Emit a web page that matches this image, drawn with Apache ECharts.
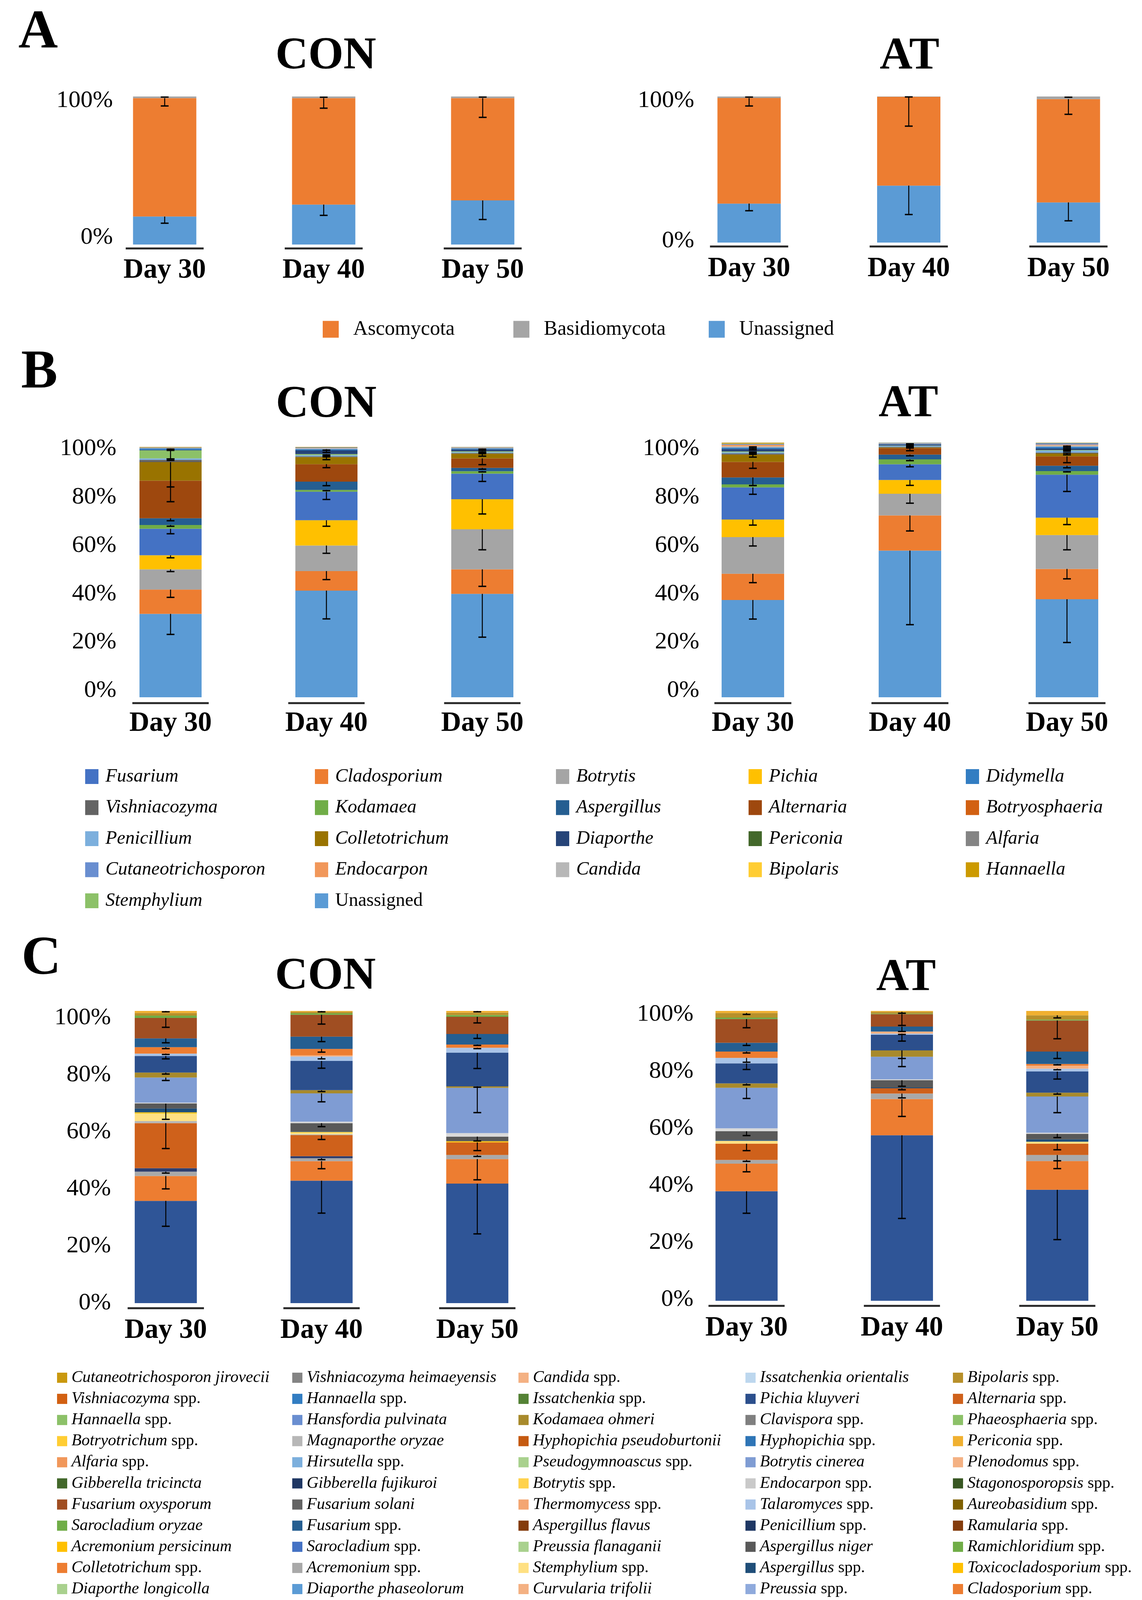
<!DOCTYPE html>
<html><head><meta charset="utf-8">
<script src="https://cdn.jsdelivr.net/npm/echarts@6/dist/echarts.min.js"></script>
<style>html,body{margin:0;padding:0;background:#fff}#c{width:2923px;height:4336px}</style>
</head><body><div id="c"></div>
<script>
// ---------------- DATA ----------------
const days = ['Day 30', 'Day 40', 'Day 50'];
const pctTicks = ['0%', '20%', '40%', '60%', '80%', '100%'];

// Panel A (phylum), stack order bottom-up; each row = [Day30, Day40, Day50]
const aTaxa = ['Unassigned', 'Ascomycota', 'Basidiomycota'];
const aColors = ['#5B9BD5', '#ED7D31', '#A5A5A5'];
const aConValues = [[18.9, 27.0, 29.8], [80.0, 71.9, 69.1], [1.1, 1.1, 1.1]];
const aConErrors = [[4.5, 7.3, 12.9], [5.3, 6.8, 13.0], [0.4, 0.5, 0.4]];
const aAtValues = [[26.7, 39.0, 27.5], [72.2, 60.7, 70.7], [1.1, 0.3, 1.8]];
const aAtErrors = [[4.9, 19.8, 12.6], [5.4, 20.0, 10.4], [0.4, 0.3, 0.5]];
const aLegend = ['Ascomycota', 'Basidiomycota', 'Unassigned'];

// Panel B (genus), stack order bottom-up
const bTaxa = ['Unassigned', 'Cladosporium', 'Botrytis', 'Pichia', 'Fusarium', 'Kodamaea', 'Aspergillus', 'Alternaria', 'Colletotrichum', 'Vishniacozyma', 'Penicillium', 'Stemphylium', 'Diaporthe', 'Didymella', 'Candida', 'Endocarpon', 'Cutaneotrichosporon', 'Periconia', 'Bipolaris', 'Alfaria', 'Hannaella', 'Botryosphaeria'];
const bColors = ['#5B9BD5', '#ED7D31', '#A5A5A5', '#FFC000', '#4472C4', '#70AD47', '#255E91', '#9E480E', '#997300', '#636363', '#7CAFDD', '#8CC168', '#264478', '#327DC2', '#B7B7B7', '#F1975A', '#698ED0', '#43682B', '#FFCD33', '#848484', '#CC9A00', '#D26012'];
const bConValues = [[33.3, 42.6, 41.3], [9.7, 7.8, 9.8], [8.1, 10.2, 16.0], [5.6, 10.1, 12.0], [10.6, 11.4, 10.2], [1.5, 0.7, 1.0], [2.7, 3.3, 1.3], [15.0, 7.0, 3.8], [7.4, 2.8, 1.9], [0.9, 0.3, 0.2], [0.6, 0.5, 0.4], [3.2, 0.4, 0.3], [0.2, 1.5, 0.8], [0.6, 0.5, 0.4], [0.1, 0.3, 0.2], [0.1, 0.1, 0.1], [0.1, 0.2, 0.1], [0.1, 0.1, 0.05], [0.05, 0.05, 0.05], [0.05, 0.05, 0.05], [0.05, 0.05, 0.05], [0.05, 0.05, 0]];
const bConErrors = [[8.2, 11.3, 17.3], [3.1, 3.4, 6.8], [0.9, 3.1, 8.2], [1.0, 2.4, 5.9], [2.0, 3.1, 3.1], [0.5, 0.3, 0.3], [1.0, 1.6, 0.5], [8.4, 1.4, 2.5], [9.9, 1.0, 1.0], [0.2, 0.2, 0.2], [0.2, 0.3, 0.2], [3.4, 0.3, 0.3], [0.2, 0.8, 0.5], [0.3, 0.4, 0.3]];
const bAtValues = [[38.2, 57.6, 38.5], [10.3, 13.8, 11.9], [14.4, 8.5, 13.3], [6.9, 5.4, 6.8], [12.6, 6.2, 16.9], [1.2, 1.9, 1.4], [2.7, 1.9, 2.1], [6.1, 2.5, 3.7], [2.9, 0.3, 1.1], [0.4, 0.2, 0.4], [0.5, 0.4, 0.8], [0.3, 0.1, 0.2], [1.0, 0.5, 0.6], [0.5, 0.2, 0.6], [0.5, 0.1, 0.6], [0.6, 0.1, 0.3], [0.3, 0.2, 0.5], [0.1, 0.05, 0.1], [0.2, 0.05, 0.1], [0.1, 0, 0.05], [0.2, 0, 0.05], [0, 0, 0]];
const bAtErrors = [[7.5, 29.1, 17.0], [3.5, 6.1, 3.9], [3.5, 3.7, 5.8], [2.2, 2.1, 2.7], [2.7, 1.0, 6.6], [0.5, 0.5, 0.3], [3.2, 0.5, 0.8], [2.5, 1.0, 2.5], [1.0, 0.2, 0.5], [0.3, 0.2, 0.2], [0.3, 0.2, 0.3], [0.2, 0, 0.2], [0.4, 0.3, 0.3], [0.3, 0.2, 0.3], [0.2, 0.1, 0.3]];
const bLegendCols = [
  ['Fusarium', 'Vishniacozyma', 'Penicillium', 'Cutaneotrichosporon', 'Stemphylium'],
  ['Cladosporium', 'Kodamaea', 'Colletotrichum', 'Endocarpon', 'Unassigned'],
  ['Botrytis', 'Aspergillus', 'Diaporthe', 'Candida'],
  ['Pichia', 'Alternaria', 'Periconia', 'Bipolaris'],
  ['Didymella', 'Botryosphaeria', 'Alfaria', 'Hannaella']
];

// Panel C (species): legend columns (names and colours)
const cLegendCols = [
  ['Cutaneotrichosporon jirovecii', 'Vishniacozyma spp.', 'Hannaella spp.', 'Botryotrichum spp.', 'Alfaria spp.', 'Gibberella tricincta', 'Fusarium oxysporum', 'Sarocladium oryzae', 'Acremonium persicinum', 'Colletotrichum spp.', 'Diaporthe longicolla', 'Starmerella spp.', 'Biappendiculispora spp.', 'Didymella spp.', 'Dissoconium spp.'],
  ['Vishniacozyma heimaeyensis', 'Hannaella spp.', 'Hansfordia pulvinata', 'Magnaporthe oryzae', 'Hirsutella spp.', 'Gibberella fujikuroi', 'Fusarium solani', 'Fusarium spp.', 'Sarocladium spp.', 'Acremonium spp.', 'Diaporthe phaseolorum', 'Diaporthe spp.', 'Candida tropicalis', 'Keissleriella spp.', 'Zygophiala spp.'],
  ['Candida spp.', 'Issatchenkia spp.', 'Kodamaea ohmeri', 'Hyphopichia pseudoburtonii', 'Pseudogymnoascus spp.', 'Botrytis spp.', 'Thermomycess spp.', 'Aspergillus flavus', 'Preussia flanaganii', 'Stemphylium spp.', 'Curvularia trifolii', 'Curvularia affinis', 'Cercospora spp.', 'Botryosphaeria spp.', 'Unassigned'],
  ['Issatchenkia orientalis', 'Pichia kluyveri', 'Clavispora spp.', 'Hyphopichia spp.', 'Botrytis cinerea', 'Endocarpon spp.', 'Talaromyces spp.', 'Penicillium spp.', 'Aspergillus niger', 'Aspergillus spp.', 'Preussia spp.', 'Neocamarosporium spp.', 'Curvularia lunata', 'Curvularia spp.'],
  ['Bipolaris spp.', 'Alternaria spp.', 'Phaeosphaeria spp.', 'Periconia spp.', 'Plenodomus spp.', 'Stagonosporopsis spp.', 'Aureobasidium spp.', 'Ramularia spp.', 'Ramichloridium spp.', 'Toxicocladosporium spp.', 'Cladosporium spp.', 'Alternaria alternata', 'Setophoma spp.', 'Periconia byssoides']
];
const cLegendColors = [
  ['#C9980E', '#D26012', '#8CC168', '#FFCD33', '#F1975A', '#43682B', '#A04E22', '#70AD47', '#FFC000', '#ED7D31', '#A9D18E', '#FADB73', '#B7B7B7', '#2E3E6E', '#4472C4'],
  ['#848484', '#327DC2', '#698ED0', '#B7B7B7', '#7CAFDD', '#203864', '#636363', '#255E91', '#4472C4', '#A9A9A9', '#5B9BD5', '#A9BCE3', '#D9D9D9', '#7CAFDD', '#636363'],
  ['#F4B183', '#548235', '#A88A2C', '#C55A11', '#A9D18E', '#FFD24D', '#F4A672', '#843C0C', '#A9D18E', '#FFE082', '#F4B183', '#548235', '#255E91', '#5B9BD5', '#2F5597'],
  ['#BDD7EE', '#2C4F8C', '#7F7F7F', '#2E75B6', '#7F9CD3', '#C9C9C9', '#A9C4E8', '#1F3864', '#595959', '#1F4E79', '#8FAADC', '#D0CECE', '#9DC3E6', '#2F5597'],
  ['#B8902A', '#CF611B', '#8CC168', '#F0B030', '#F4B183', '#385723', '#7F6000', '#843C0C', '#70AD47', '#FFC000', '#ED7D31', '#7F7F7F', '#2E75B6', '#8FAADC']
];
// Panel C visible segments, stack order bottom-up
const cTaxa = ['Unassigned', 'Cladosporium spp.', 'Acremonium spp.', 'Didymella spp.', 'Alternaria spp.', 'Biappendiculispora spp.', 'Stemphylium spp.', 'Toxicocladosporium spp.', 'Aspergillus spp.', 'Aspergillus niger', 'Candida tropicalis', 'Botrytis cinerea', 'Kodamaea ohmeri', 'Pichia kluyveri', 'Talaromyces spp.', 'Candida spp.', 'Colletotrichum spp.', 'Fusarium spp.', 'Fusarium oxysporum', 'Sarocladium oryzae', 'Bipolaris spp.', 'Periconia spp.'];
const cConValues = [[35.0, 41.9, 40.9], [8.5, 6.7, 8.4], [1.5, 1.0, 1.4], [1.2, 0.7, 0], [15.4, 7.2, 4.3], [0.7, 0.3, 0], [2.6, 0.6, 0], [0.4, 0.2, 0.4], [1.3, 0.2, 0], [1.7, 2.8, 1.6], [0.3, 0.5, 1.2], [8.6, 9.7, 15.5], [1.7, 1.1, 0.5], [5.7, 10.0, 11.5], [0.8, 1.5, 1.7], [0, 0.4, 0], [2.2, 2.2, 1.1], [3.0, 4.2, 3.6], [7.0, 7.5, 5.9], [0.8, 0.5, 0.6], [0.9, 0.5, 0.8], [0.7, 0.3, 0.6]];
const cConErrors = [[8.7, 11.1, 17.2], [4.4, 2.6, 7.1], [0.5, 0.5, 0.5], [0, 0, 0], [8.7, 1.5, 2.8], [0, 0, 0], [0, 0, 0], [0, 0, 0], [0, 0, 0], [5.4, 1.2, 1.5], [0, 0, 0], [1.0, 2.9, 8.5], [0.5, 0.5, 0.3], [1.0, 2.5, 5.4], [0.3, 0.8, 0.3], [0, 0, 0], [0.5, 1.1, 0.3], [1.5, 1.7, 1.5], [3.2, 3.2, 2.1], [0, 0, 0], [0, 0, 0], [0.3, 0.3, 0.3]];
const cAtValues = [[37.8, 57.1, 38.3], [9.5, 12.5, 9.9], [1.3, 1.9, 2.1], [0, 0, 0], [5.6, 1.8, 3.9], [0, 0, 0], [1.0, 0, 0.7], [0, 0, 0], [0.3, 0.3, 0.8], [3.0, 2.5, 1.9], [1.0, 0.3, 0.4], [14.0, 7.8, 12.5], [1.5, 2.2, 1.3], [6.9, 5.4, 7.3], [1.9, 0.4, 1.0], [0, 0.7, 1.0], [2.2, 0, 0.6], [3.0, 1.7, 4.3], [8.2, 4.3, 10.7], [0.5, 0.2, 0.3], [1.6, 0.6, 1.5], [0.7, 0.3, 1.5]];
const cAtErrors = [[7.6, 28.7, 17.2], [2.8, 6.0, 2.6], [0.5, 1.5, 2.0], [0, 0, 0], [2.4, 0.5, 2.1], [0, 0, 0], [0, 0, 0], [0, 0, 0], [0, 0, 0], [1.5, 2.1, 1.3], [0, 0, 0], [3.7, 3.4, 5.6], [0.5, 2.8, 0.5], [2.1, 2.2, 2.6], [1.5, 0.3, 0.4], [0, 0, 0], [0.5, 0, 0.3], [0.9, 1.7, 2.4], [3.0, 3.9, 6.3], [0, 0, 0], [0.5, 0.5, 0.9], [0, 0, 0]];

// ---------------- BUILD ----------------
const serif = "'Liberation Serif','Times New Roman',serif";
const option = { animation: false, backgroundColor: '#ffffff', title: [], grid: [], xAxis: [], yAxis: [], legend: [], series: [] };

// plot grids (bars) and label frames (Excel places the % labels on a slightly compressed scale)
const gridSpecs = [
  { left: 218, top: 247, width: 1221, height: 379, yInt: 100, xm: 31, bw: 162, off: 10, lr: 289, lt: 258, lh: 350 },
  { left: 1713, top: 247, width: 1226, height: 374, yInt: 100, xm: 32, bw: 162, off: 10, lr: 1777, lt: 258, lh: 359 },
  { left: 237, top: 1144, width: 1197, height: 641, yInt: 20, xm: 32, bw: 159, off: 15, lr: 298, lt: 1149, lh: 619 },
  { left: 1726, top: 1133, width: 1206, height: 652, yInt: 20, xm: 32, bw: 160, off: 15, lr: 1790, lt: 1149, lh: 619 },
  { left: 225, top: 2588, width: 1196, height: 748, yInt: 20, xm: 35, bw: 159, off: 13, lr: 284, lt: 2606, lh: 730 },
  { left: 1712, top: 2588, width: 1193, height: 742, yInt: 20, xm: 35, bw: 159, off: 13, lr: 1775, lt: 2597, lh: 730 }
];
gridSpecs.forEach((g, i) => {
  option.grid.push({ left: g.left, top: g.top, width: g.width, height: g.height, containLabel: false, outerBoundsMode: 'none' });
  option.xAxis.push({ type: 'category', gridIndex: i, data: days, axisLine: { show: false }, axisTick: { show: false },
    axisLabel: { margin: g.xm, fontFamily: serif, fontWeight: 'bold', fontSize: 71, color: '#000' } });
  option.yAxis.push({ type: 'value', gridIndex: i, min: 0, max: 100, interval: g.yInt, splitLine: { show: false },
    axisLine: { show: false }, axisTick: { show: false }, axisLabel: { show: false } });
});
gridSpecs.forEach((g, i) => {
  const gi = 6 + i;
  option.grid.push({ left: g.lr + 8, top: g.lt, width: 4, height: g.lh, containLabel: false, outerBoundsMode: 'none' });
  option.xAxis.push({ type: 'value', gridIndex: gi, show: false });
  option.yAxis.push({ type: 'value', gridIndex: gi, min: 0, max: 100, interval: g.yInt, splitLine: { show: false },
    axisLine: { show: false }, axisTick: { show: false },
    axisLabel: { margin: 8, formatter: v => pctTicks[Math.round(v / 20)], fontFamily: serif, fontSize: 62, color: '#000' } });
});

// titles
const tStyle = (s) => ({ fontFamily: serif, fontWeight: 'bold', fontSize: s, color: '#000' });
[['A', 47, 16, 140, 'left'], ['CON', 834, 87, 116, 'center'], ['AT', 2328, 87, 116, 'center'],
 ['B', 54, 886, 140, 'left'], ['CON', 835, 979, 116, 'center'], ['AT', 2325, 977, 116, 'center'],
 ['C', 55, 2387, 140, 'left'], ['CON', 833, 2443, 116, 'center'], ['AT', 2319, 2446, 116, 'center']
].forEach(t => option.title.push({ text: t[0], left: t[1], top: t[2], padding: 0, textAlign: t[4], textStyle: tStyle(t[3]) }));

function addStack(gi, ids, colorOf, valuesOf, stack) {
  ids.forEach(id => option.series.push({
    type: 'bar', name: id, stack, xAxisIndex: gi, yAxisIndex: gi, barWidth: gridSpecs[gi].bw,
    data: valuesOf[id] || [0, 0, 0], itemStyle: { color: colorOf[id] }, silent: true, emphasis: { disabled: true }
  }));
}
function addErrors(gi, vals, errs) {
  const data = [];
  for (let d = 0; d < 3; d++) {
    let cum = 0;
    vals.forEach((v, t) => { cum += v[d]; const e = errs[t] ? errs[t][d] : 0; if (e > 0) data.push([d, cum, cum - e]); });
  }
  option.series.push({ type: 'custom', xAxisIndex: gi, yAxisIndex: gi, z: 10, silent: true, data, encode: { x: 0, y: [1, 2] },
    renderItem: (p, api) => {
      const a = api.coord([api.value(0), api.value(1)]);
      const b = api.coord([api.value(0), api.value(2)]);
      const w = 10;
      return { type: 'group', children: [
        { type: 'line', shape: { x1: a[0], y1: a[1], x2: b[0], y2: b[1] }, style: { stroke: '#000', lineWidth: 2.5 } },
        { type: 'line', shape: { x1: b[0] - w, y1: b[1], x2: b[0] + w, y2: b[1] }, style: { stroke: '#000', lineWidth: 3.5 } }
      ] };
    } });
}
function addBase(gi) {
  const off = gridSpecs[gi].off;
  option.series.push({ type: 'custom', xAxisIndex: gi, yAxisIndex: gi, z: 5, silent: true, clip: false,
    data: [[0, 0], [1, 0], [2, 0]], encode: { x: 0, y: 1 },
    renderItem: (p, api) => {
      const pt = api.coord([api.value(0), 0]);
      const hw = api.size([1, 0])[0] * 0.245;
      return { type: 'line', shape: { x1: pt[0] - hw, y1: pt[1] + off, x2: pt[0] + hw, y2: pt[1] + off }, style: { stroke: '#262626', lineWidth: 5 } };
    } });
}

// Panel A
const aIds = aTaxa.map(t => t + '|A');
const aColorOf = {}; aIds.forEach((id, i) => aColorOf[id] = aColors[i]);
const aConOf = {}, aAtOf = {};
aIds.forEach((id, i) => { aConOf[id] = aConValues[i]; aAtOf[id] = aAtValues[i]; });
addStack(0, aIds, aColorOf, aConOf, 'aCON'); addStack(1, aIds, aColorOf, aAtOf, 'aAT');
addErrors(0, aConValues, aConErrors); addErrors(1, aAtValues, aAtErrors);
addBase(0); addBase(1);

// Panel B
const bIds = bTaxa.map(t => t + '|B');
const bColorOf = {}, bConOf = {}, bAtOf = {};
bIds.forEach((id, i) => { bColorOf[id] = bColors[i]; bConOf[id] = bConValues[i]; bAtOf[id] = bAtValues[i]; });
addStack(2, bIds, bColorOf, bConOf, 'bCON'); addStack(3, bIds, bColorOf, bAtOf, 'bAT');
addErrors(2, bConValues, bConErrors); addErrors(3, bAtValues, bAtErrors);
addBase(2); addBase(3);

// Panel C
const seen = {};
const cLegendIds = cLegendCols.map(col => col.map(n => { seen[n] = (seen[n] || 0) + 1; return n + '|C' + (seen[n] > 1 ? seen[n] : ''); }));
const cColorOf = {}, cIdOf = {};
cLegendCols.forEach((col, ci) => col.forEach((n, ri) => { const id = cLegendIds[ci][ri]; cColorOf[id] = cLegendColors[ci][ri]; if (!cIdOf[n]) cIdOf[n] = id; }));
const cConOf = {}, cAtOf = {};
cTaxa.forEach((n, i) => { cConOf[cIdOf[n]] = cConValues[i]; cAtOf[cIdOf[n]] = cAtValues[i]; });
const cStackIds = cTaxa.map(n => cIdOf[n]);
cLegendIds.flat().forEach(id => { if (!cStackIds.includes(id)) cStackIds.push(id); });
addStack(4, cStackIds, cColorOf, cConOf, 'cCON'); addStack(5, cStackIds, cColorOf, cAtOf, 'cAT');
addErrors(4, cConValues, cConErrors); addErrors(5, cAtValues, cAtErrors);
addBase(4); addBase(5);

// legends
function fmtName(name) {
  const label = name.split('|')[0];
  if (label === 'Unassigned' || aTaxa.includes(label)) return '{r|' + label + '}';
  if (label.endsWith(' spp.')) return '{i|' + label.slice(0, -5) + '}{r| spp.}';
  return '{i|' + label + '}';
}
function richOf(fs, lh) {
  return { i: { fontFamily: serif, fontStyle: 'italic', fontSize: fs, lineHeight: lh, color: '#000' },
           r: { fontFamily: serif, fontSize: fs, lineHeight: lh, color: '#000' } };
}
function addLegend(ids, left, top, o) {
  option.legend.push({ orient: 'vertical', left, top, padding: 0, itemGap: o.gap, itemWidth: o.iw, itemHeight: o.ih,
    icon: 'rect', selectedMode: false, data: ids, formatter: fmtName,
    textStyle: { fontFamily: serif, fontSize: o.fs, lineHeight: o.lh, padding: [0, 0, 0, o.pad], rich: richOf(o.fs, o.lh) } });
}
const aLeg = { gap: 0, iw: 41, ih: 43, fs: 52, lh: 56, pad: 32 };
[826, 1314, 1814].forEach((x, i) => addLegend([aLegend[i] + '|A'], x, 815, aLeg));
const bLeg = { gap: 19.5, iw: 34, ih: 38, fs: 48, lh: 60, pad: 13 };
[218, 806, 1423, 1916, 2472].forEach((x, i) => addLegend(bLegendCols[i].map(n => n + '|B'), x, 1958, bLeg));
const cLeg = { gap: 0.1, iw: 26, ih: 26, fs: 42, lh: 54, pad: 6 };
[146, 748, 1327, 1908, 2439].forEach((x, i) => addLegend(cLegendIds[i], x, 3500, cLeg));

const chart = echarts.init(document.getElementById('c'), null, { renderer: 'canvas' });
chart.setOption(option);
</script>
</body></html>
